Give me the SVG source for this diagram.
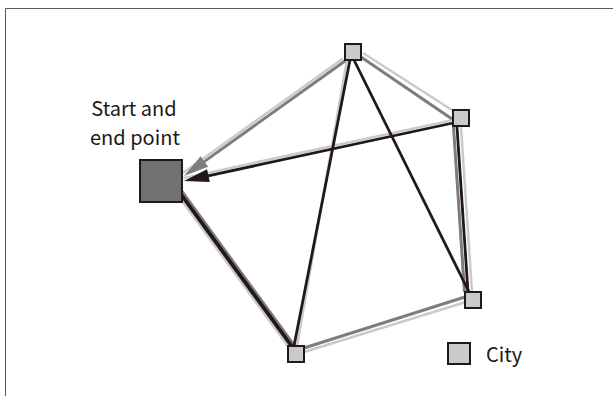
<svg xmlns="http://www.w3.org/2000/svg" width="613" height="396" viewBox="0 0 613 396">
<style>
.frame{fill:none;stroke:#5a5a5a;stroke-width:1}
.lg{fill:none;stroke:#c9caca;stroke-width:2.5}
.mg{fill:none;stroke:#7d7d7d;stroke-width:3}
.bk{fill:none;stroke:#231815;stroke-width:2.8}
.city{fill:#c9caca;stroke:#231815;stroke-width:2}
.start{fill:#727171;stroke:#231815;stroke-width:2}
.lbl{font-family:"Noto Sans CJK JP","Noto Sans",sans-serif;font-size:20px;fill:#231815}
</style>
<defs>
<marker id="ag" markerUnits="userSpaceOnUse" markerWidth="25" markerHeight="13" refX="17" refY="6.5" orient="auto" overflow="visible"><path d="M0,0 L25,6.5 L0,13 z" fill="#7d7d7d"/></marker>
<marker id="ab" markerUnits="userSpaceOnUse" markerWidth="25" markerHeight="13" refX="17" refY="6.5" orient="auto" overflow="visible"><path d="M0,0 L25,6.5 L0,13 z" fill="#231815"/></marker>
</defs>
<path class="frame" d="M5.5,396 V8.5 H613"/>
<g id="connectors">
<line class="lg" x1="343" y1="58.5" x2="183" y2="173"/>
<line class="lg" x1="363" y1="53" x2="455" y2="112"/>
<line class="lg" x1="461" y1="127" x2="472" y2="292"/>
<line class="lg" x1="466" y1="302" x2="304" y2="352"/>
<line class="lg" x1="177.6" y1="194.8" x2="290.6" y2="349.8"/>
<line class="lg" x1="347" y1="60" x2="297" y2="346"/>
<line class="lg" x1="452.4" y1="120.1" x2="183.4" y2="178.1"/>
<line class="mg" x1="345" y1="61" x2="190.5" y2="171.35" marker-end="url(#ag)"/>
<line class="mg" x1="361" y1="57" x2="452" y2="119"/>
<line class="mg" x1="453.5" y1="127" x2="464.5" y2="292"/>
<line class="mg" x1="465" y1="297" x2="304" y2="348"/>
<line class="mg" x1="182" y1="191.5" x2="295" y2="346.5"/>
<line class="bk" x1="180" y1="193" x2="293" y2="348" style="stroke-width:3.8"/>
<line class="bk" x1="350" y1="60" x2="294" y2="346"/>
<line class="bk" x1="353" y1="58" x2="469" y2="292"/>
<line class="bk" x1="457" y1="127" x2="468" y2="292"/>
<line class="bk" x1="453" y1="123" x2="191.8" y2="179.3" marker-end="url(#ab)"/>
</g>
<g id="start"><rect class="start" x="140" y="160" width="42" height="42"/>
<text class="lbl" x="134" y="116" text-anchor="middle">Start and</text>
<text class="lbl" x="135" y="145" text-anchor="middle">end point</text></g>
<g id="cityA"><rect class="city" x="345" y="44" width="16" height="16"/></g>
<g id="cityB"><rect class="city" x="453" y="110" width="16" height="16"/></g>
<g id="cityC"><rect class="city" x="465" y="292" width="16" height="16"/></g>
<g id="cityD"><rect class="city" x="288" y="346" width="16" height="16"/></g>
<g id="legend"><rect class="city" x="448" y="343" width="22" height="21"/>
<text class="lbl" x="486" y="362">City</text></g>
</svg>
